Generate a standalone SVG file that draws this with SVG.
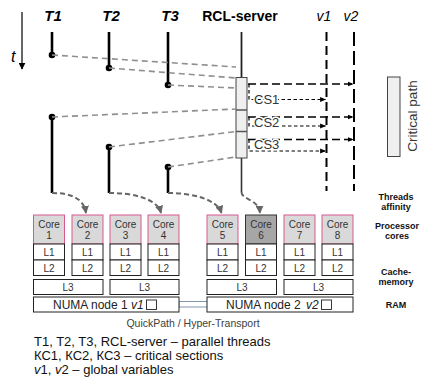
<svg xmlns="http://www.w3.org/2000/svg" width="422" height="379" viewBox="0 0 422 379">
<defs>
<marker id="ag" viewBox="0 0 10 10" refX="9" refY="5" markerWidth="4" markerHeight="4" orient="auto" markerUnits="strokeWidth"><path d="M0,0 L10,5 L0,10 z" fill="#666"/></marker>
<marker id="ab" viewBox="0 0 10 10" refX="9" refY="5" markerWidth="6" markerHeight="6" orient="auto" markerUnits="userSpaceOnUse"><path d="M0,1 L10,5 L0,9 z" fill="#000"/></marker>
<marker id="at" viewBox="0 0 10 10" refX="9" refY="5" markerWidth="7" markerHeight="7" orient="auto" markerUnits="userSpaceOnUse"><path d="M0,0 L10,5 L0,10 z" fill="#000"/></marker>
</defs>
<style>
text{font-family:"Liberation Sans",Arial,sans-serif;fill:#222}
.hd{font-size:14px;font-weight:bold;text-anchor:middle;fill:#000}
.ti{font-size:15px}
.hi{font-size:14px;font-style:italic;text-anchor:middle;fill:#000}
.th{stroke:#000;stroke-width:2.6;fill:none}
.dot{fill:#000}
.gd{stroke:#8f8f8f;stroke-width:1.6;stroke-dasharray:6,4;fill:none}
.cv{stroke:#666;stroke-width:2;stroke-dasharray:5,3;fill:none;marker-end:url(#ag)}
.ld{stroke:#000;stroke-width:1.5;stroke-dasharray:8,4;fill:none;marker-end:url(#ab)}
.sd{stroke:#000;stroke-width:1.2;stroke-dasharray:3.5,2.5;fill:none;marker-end:url(#ab)}
.core{fill:#d9d9d9;stroke:#d9598f;stroke-width:1}
.core6{fill:#a6a6a6;stroke:#333;stroke-width:1}
.cell{fill:#fff;stroke:#222;stroke-width:1}
.ct{font-size:10px;text-anchor:middle;fill:#333}
.cs{font-size:13px;fill:#333;paint-order:stroke;stroke:#fff;stroke-width:3px}
.rl{font-size:9px;font-weight:bold;text-anchor:middle;fill:#111}
.lg{font-size:13px;fill:#111}
.nm{font-size:12px;fill:#222}
</style>
<rect width="422" height="379" fill="#fff"/>

<g id="time-axis">
<line x1="22" y1="12" x2="22" y2="69" stroke="#000" stroke-width="1.2" marker-end="url(#at)"/>
<text x="11" y="62" style="font-size:16px;font-style:italic;fill:#000">t</text>
</g>

<g id="T1"><text class="hd ti" x="53" y="21" font-style="italic">T1</text><line class="th" x1="52" y1="32" x2="52" y2="55"/><circle class="dot" cx="52" cy="55" r="3.3"/><line class="th" x1="52" y1="117" x2="52" y2="193"/><circle class="dot" cx="52" cy="117" r="3.3"/></g>
<g id="T2"><text class="hd ti" x="111" y="21" font-style="italic">T2</text><line class="th" x1="109" y1="32" x2="109" y2="68"/><circle class="dot" cx="109" cy="68" r="3.3"/><line class="th" x1="109" y1="147" x2="109" y2="193"/><circle class="dot" cx="109" cy="147" r="3.3"/></g>
<g id="T3"><text class="hd ti" x="170" y="21" font-style="italic">T3</text><line class="th" x1="168" y1="32" x2="168" y2="85"/><circle class="dot" cx="168" cy="85" r="3.3"/><line class="th" x1="168" y1="167" x2="168" y2="193"/><circle class="dot" cx="168" cy="167" r="3.3"/></g>
<g id="RCL-server"><text class="hd" x="240" y="21">RCL-server</text>
<line x1="241.5" y1="32" x2="241.5" y2="77" stroke="#222" stroke-width="1.8"/>
<line x1="241.5" y1="158" x2="241.5" y2="192" stroke="#333" stroke-width="1.6"/>
<rect x="236" y="77.5" width="11" height="80.5" fill="#efefef" stroke="#444" stroke-width="1"/>
<line x1="236" y1="110" x2="247" y2="110" stroke="#555" stroke-width="1.5"/>
<line x1="236" y1="131.5" x2="247" y2="131.5" stroke="#555" stroke-width="1.5"/>
</g>
<g id="v1"><text class="hi" x="324" y="21">v1</text><line x1="326.5" y1="32" x2="326.5" y2="191" stroke="#000" stroke-width="2" stroke-dasharray="9,5"/></g>
<g id="v2"><text class="hi" x="351" y="21">v2</text><line x1="354" y1="32" x2="354" y2="191" stroke="#000" stroke-width="2" stroke-dasharray="14,5"/></g>

<g id="critical-path">
<rect x="387.5" y="77" width="12.5" height="79.5" fill="#efefef" stroke="#444" stroke-width="1"/>
<text transform="translate(417,116) rotate(-90)" style="font-size:13.5px;text-anchor:middle;fill:#333">Critical path</text>
</g>

<g id="connectors">
<path class="gd" d="M52,55 L236,67"/>
<path class="gd" d="M109,68 L236,78"/>
<path class="gd" d="M168,85 L236,88"/>
<path class="gd" d="M52,117 L236,109"/>
<path class="gd" d="M109,147 L236,131.5"/>
<path class="gd" d="M168,167 L236,157"/>
<path class="cv" d="M52,193 C72,193 84,199 86,213"/>
<path class="cv" d="M109,193 C132,193 157,198 161,213"/>
<path class="cv" d="M168,193 C192,193 217,199 221.5,213"/>
<path class="cv" d="M241.5,192 C241.5,200 259,199 260,213"/>
<path class="ld" d="M248,84 H353"/>
<path class="sd" d="M249,84 V99.5 H325.5"/>
<path class="ld" d="M248,117 H353"/>
<path class="sd" d="M249,117 V126 H325.5"/>
<path class="ld" d="M248,139.5 H353"/>
<path class="sd" d="M249,139.5 V151 H325.5"/>
<path d="M179,301.5 H207 M179,307 H207" stroke="#8497b0" stroke-width="1.2" fill="none"/>
<line x1="179" y1="301.5" x2="179" y2="307" stroke="#8497b0" stroke-width="1"/>
</g>

<g id="cs-labels">
<text class="cs" x="254" y="104">CS1</text>
<text class="cs" x="254" y="126.5">CS2</text>
<text class="cs" x="254" y="148.5">CS3</text>
</g>

<g id="core1"><rect class="core" x="33.5" y="215" width="31" height="29"/><rect class="cell" x="33.5" y="244" width="31" height="16"/><rect class="cell" x="33.5" y="260" width="31" height="15.5"/><text class="ct" x="49" y="227.5">Core</text><text class="ct" x="49" y="238.5">1</text><text class="ct" x="49" y="256">L1</text><text class="ct" x="49" y="271.5">L2</text></g>
<g id="core2"><rect class="core" x="72" y="215" width="31" height="29"/><rect class="cell" x="72" y="244" width="31" height="16"/><rect class="cell" x="72" y="260" width="31" height="15.5"/><text class="ct" x="87.5" y="227.5">Core</text><text class="ct" x="87.5" y="238.5">2</text><text class="ct" x="87.5" y="256">L1</text><text class="ct" x="87.5" y="271.5">L2</text></g>
<g id="core3"><rect class="core" x="110" y="215" width="31" height="29"/><rect class="cell" x="110" y="244" width="31" height="16"/><rect class="cell" x="110" y="260" width="31" height="15.5"/><text class="ct" x="125.5" y="227.5">Core</text><text class="ct" x="125.5" y="238.5">3</text><text class="ct" x="125.5" y="256">L1</text><text class="ct" x="125.5" y="271.5">L2</text></g>
<g id="core4"><rect class="core" x="148" y="215" width="31" height="29"/><rect class="cell" x="148" y="244" width="31" height="16"/><rect class="cell" x="148" y="260" width="31" height="15.5"/><text class="ct" x="163.5" y="227.5">Core</text><text class="ct" x="163.5" y="238.5">4</text><text class="ct" x="163.5" y="256">L1</text><text class="ct" x="163.5" y="271.5">L2</text></g>
<g id="core5"><rect class="core" x="207" y="215" width="31" height="29"/><rect class="cell" x="207" y="244" width="31" height="16"/><rect class="cell" x="207" y="260" width="31" height="15.5"/><text class="ct" x="222.5" y="227.5">Core</text><text class="ct" x="222.5" y="238.5">5</text><text class="ct" x="222.5" y="256">L1</text><text class="ct" x="222.5" y="271.5">L2</text></g>
<g id="core6"><rect class="core6" x="245.5" y="215" width="31" height="29"/><rect class="cell" x="245.5" y="244" width="31" height="16"/><rect class="cell" x="245.5" y="260" width="31" height="15.5"/><text class="ct" x="261" y="227.5">Core</text><text class="ct" x="261" y="238.5">6</text><text class="ct" x="261" y="256">L1</text><text class="ct" x="261" y="271.5">L2</text></g>
<g id="core7"><rect class="core" x="284" y="215" width="31" height="29"/><rect class="cell" x="284" y="244" width="31" height="16"/><rect class="cell" x="284" y="260" width="31" height="15.5"/><text class="ct" x="299.5" y="227.5">Core</text><text class="ct" x="299.5" y="238.5">7</text><text class="ct" x="299.5" y="256">L1</text><text class="ct" x="299.5" y="271.5">L2</text></g>
<g id="core8"><rect class="core" x="322" y="215" width="31" height="29"/><rect class="cell" x="322" y="244" width="31" height="16"/><rect class="cell" x="322" y="260" width="31" height="15.5"/><text class="ct" x="337.5" y="227.5">Core</text><text class="ct" x="337.5" y="238.5">8</text><text class="ct" x="337.5" y="256">L1</text><text class="ct" x="337.5" y="271.5">L2</text></g>

<g id="L3-a"><rect class="cell" x="33.5" y="279.5" width="69.5" height="15"/><text class="ct" x="68" y="291">L3</text></g>
<g id="L3-b"><rect class="cell" x="110" y="279.5" width="69" height="15"/><text class="ct" x="144.5" y="291">L3</text></g>
<g id="L3-c"><rect class="cell" x="207" y="279.5" width="69.5" height="15"/><text class="ct" x="242" y="291">L3</text></g>
<g id="L3-d"><rect class="cell" x="284" y="279.5" width="69" height="15"/><text class="ct" x="318.5" y="291">L3</text></g>

<g id="numa1"><rect class="cell" x="33.5" y="297" width="145.5" height="15"/>
<text class="nm" x="53" y="309">NUMA node 1</text><text class="nm" x="131" y="309" font-style="italic">v1</text>
<rect x="146.5" y="300" width="10" height="9.5" fill="#fff" stroke="#222" stroke-width="0.9"/></g>
<g id="numa2"><rect class="cell" x="207" y="297" width="146" height="15"/>
<text class="nm" x="226" y="309">NUMA node 2</text><text class="nm" x="306" y="309" font-style="italic">v2</text>
<rect x="321.5" y="300" width="10" height="9.5" fill="#fff" stroke="#222" stroke-width="0.9"/></g>

<text x="193" y="327" style="font-size:10.5px;text-anchor:middle;fill:#404040">QuickPath / Hyper-Transport</text>

<g id="row-labels">
<text class="rl" x="396" y="200">Threads</text><text class="rl" x="396" y="210">affinity</text>
<text class="rl" x="397" y="229">Processor</text><text class="rl" x="397" y="239">cores</text>
<text class="rl" x="396" y="275">Cache-</text><text class="rl" x="396" y="285">memory</text>
<text class="rl" x="396" y="308">RAM</text>
</g>

<g id="legend">
<text class="lg" x="34" y="346">T1, T2, T3, RCL-server – parallel threads</text>
<text class="lg" x="34" y="360">КС1, КС2, КС3 – critical sections</text>
<text class="lg" x="34" y="374"><tspan font-style="italic">v</tspan>1, <tspan font-style="italic">v</tspan>2 – global variables</text>
</g>
</svg>
